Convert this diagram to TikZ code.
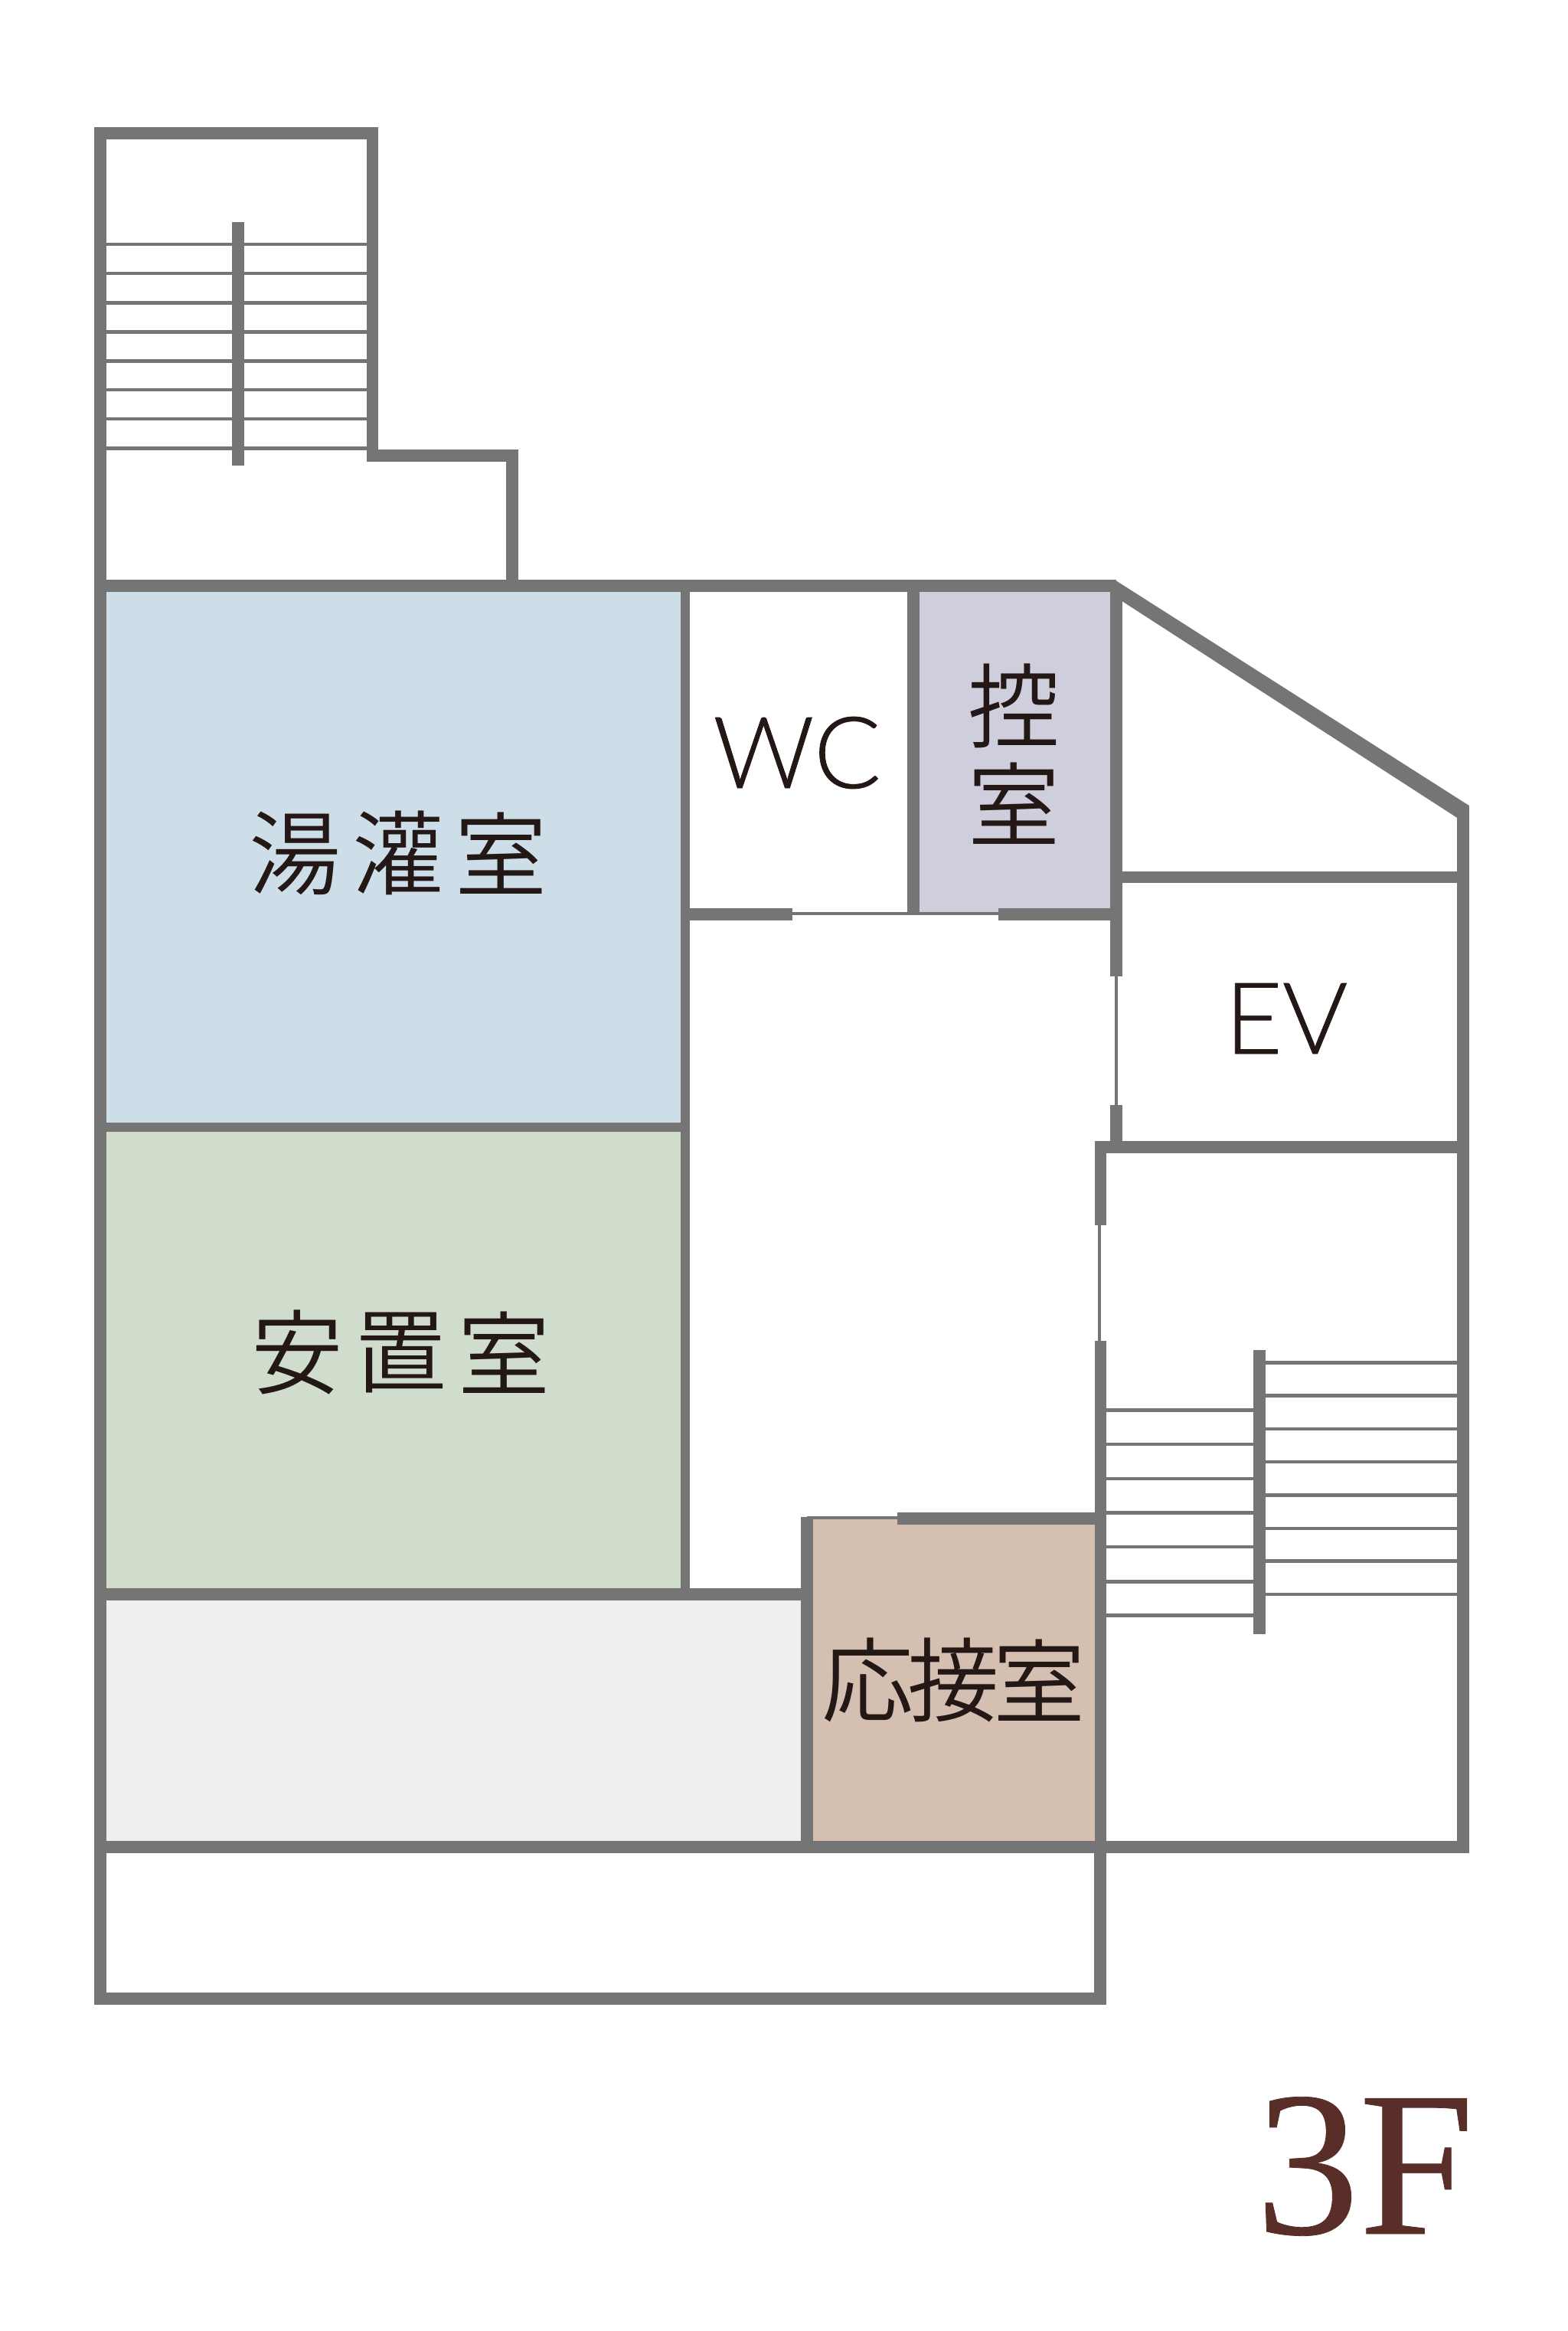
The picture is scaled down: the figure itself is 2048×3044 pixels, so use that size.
\documentclass[tikz,border=0pt]{standalone}
\usepackage{fontspec}
\newfontfamily\jpfont{Noto Sans CJK JP DemiLight}
\newfontfamily\latfont[FakeBold=0.6]{Lato Light}
\newfontfamily\serif[FakeBold=0.3]{Liberation Serif}
\definecolor{wallc}{HTML}{757575}
\definecolor{inkc}{HTML}{231815}
\definecolor{floorc}{HTML}{5A2E28}
\definecolor{bluef}{HTML}{CDDEE8}
\definecolor{greenf}{HTML}{D0DDCC}
\definecolor{grayf}{HTML}{EEEEEE}
\definecolor{mauvef}{HTML}{CFCEDC}
\definecolor{tanf}{HTML}{D5BFB1}
\tikzset{
  wall/.style={draw=wallc,line width=15.5pt,line join=miter,line cap=butt},
  wallthin/.style={draw=wallc,line width=12pt,line cap=butt},
  glass/.style={draw=wallc,line width=3.5pt,line cap=butt},
  tread/.style={draw=wallc,line width=4.5pt,line cap=butt},
  rail/.style={draw=wallc,line width=16pt,line cap=butt},
  jp/.style={inner sep=0pt,text=inkc,font=\jpfont\fontsize{120}{120}\selectfont},
  lat/.style={inner sep=0pt,text=inkc,font=\latfont\fontsize{130}{130}\selectfont}
}
\begin{document}
\begin{tikzpicture}[x=1pt,y=-1pt]
\useasboundingbox (0,0) rectangle (2048,3044);
\fill[white] (0,0) rectangle (2048,3044);
% room fills
\fill[bluef] (131,765) rectangle (895,1472);
\fill[greenf] (131,1472) rectangle (895,2082);
\fill[grayf] (131,2082) rectangle (1054,2412);
\fill[mauvef] (1193,765) rectangle (1458,1194);
\fill[tanf] (1054,1983) rectangle (1437,2412);
% stairs treads
\foreach \y in {319,357,395.4,433.6,471.3,509,547.2,585.3} \draw[tread] (138,\y) -- (480,\y);
\foreach \y in {1779.7,1822.4,1865.8,1909.2,1952.5,1996,2038.7,2082} \draw[tread] (1652,\y) -- (1905,\y);
\foreach \y in {1841.6,1886.2,1931,1975.5,2020,2065.4,2109.4} \draw[tread] (1444,\y) -- (1637,\y);
\draw[rail] (310.5,290) -- (310.5,608);
\draw[rail] (1644.5,1762.5) -- (1644.5,2134);
% outer walls
\draw[wall] (669,765) -- (669,595) -- (486.5,595) -- (486.5,174) -- (131,174) -- (131,2610) -- (1437,2610) -- (1437,2412);
\draw[wall] (131,765) -- (1458,765);
\fill[wallc] (1456,757.2) -- (1918.75,1052) -- (1918.75,1090) -- (1903.25,1090) -- (1903.25,1068) -- (1450,775) -- cycle;
\draw[wall] (1911,1058) -- (1911,2412) -- (131,2412);
% inner walls
\draw[wallthin] (895,765) -- (895,2082);
\draw[wallthin] (131,1472) -- (895,1472);
\draw[wall] (131,2082) -- (1054,2082);
\draw[wall] (1193,765) -- (1193,1194);
\draw[wall] (1458,765) -- (1458,1275);
\draw[wall] (1458,1145.5) -- (1911,1145.5);
\draw[wall] (895,1194) -- (1035,1194);
\draw[glass] (1035,1193) -- (1304,1193);
\draw[wall] (1304,1194) -- (1465,1194);
\draw[glass] (1458,1275) -- (1458,1443);
\draw[wall] (1458,1443) -- (1458,1497);
\draw[wall] (1911,1498) -- (1437.5,1498) -- (1437.5,1600);
\draw[glass] (1436,1600) -- (1436,1751);
\draw[wall] (1437.5,1751) -- (1437.5,2412);
\draw[wall] (1171.5,1983) -- (1437.5,1983);
\draw[glass] (1054,1982) -- (1171.5,1982);
\draw[wall] (1054,1980.5) -- (1054,2419);
% labels
\node[jp] (y1) at (385,1114) {湯};
\node[jp] (y2) at (520,1114) {灌};
\node[jp] (y3) at (654,1114) {室};
\node[jp] (a1) at (388,1766) {安};
\node[jp] (a2) at (523,1766) {置};
\node[jp] (a3) at (658,1766) {室};
\node[lat] (wc) at (1041,983) {WC};
\node[jp] (k1) at (1324,922) {控};
\node[jp] (k2) at (1324,1049) {室};
\node[lat] (ev) at (1680,1330) {EV};
\node[jp] (o1) at (1133,2194) {応};
\node[jp] (o2) at (1245,2194) {接};
\node[jp] (o3) at (1357,2194) {室};
\node[inner sep=0pt,anchor=base west,text=floorc,font=\serif\fontsize{270}{270}\selectfont] (floor) at (1640,2917) {3F};
\end{tikzpicture}
\end{document}
